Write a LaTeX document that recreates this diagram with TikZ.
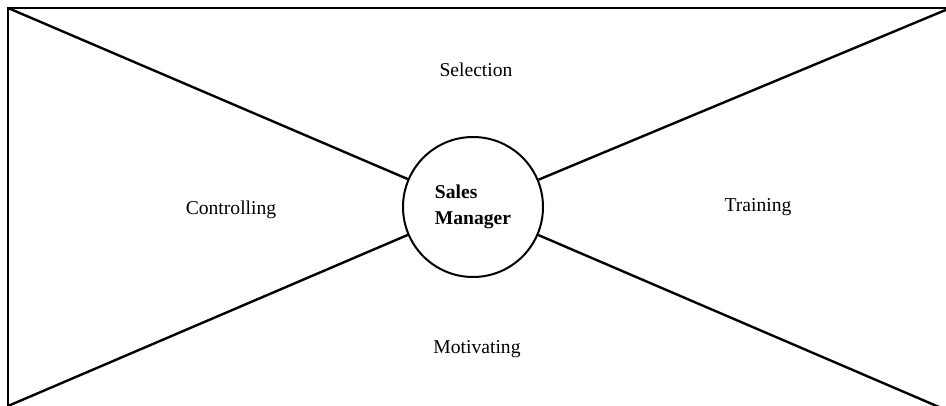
\documentclass[tikz,border=0pt]{standalone}
\usepackage{fontspec}
\setmainfont{Liberation Serif}
\begin{document}
\begin{tikzpicture}[x=0.5pt,y=-0.5pt,
  lbl/.style={font=\fontsize{9.8}{12}\selectfont, inner sep=0pt},
  frame/.style={line width=1.2pt},
  spoke/.style={line width=1.2pt},
  hub/.style={circle, draw, line width=1pt, minimum size=70pt, inner sep=0pt,
    align=left, font=\fontsize{9.8}{13}\selectfont\bfseries}]
\useasboundingbox (0,0) rectangle (946,406);
\clip (0,0) rectangle (946,406);
\fill[white] (0,0) rectangle (946,406);
\coordinate (tl) at (8,8);
\coordinate (tr) at (948,9);
\coordinate (bl) at (8,406);
\coordinate (br) at (946,410);
\draw[frame] (8,420) -- (tl) -- (960,8);
\node[hub] (sm) at (473,207) {Sales\\Manager};
\draw[spoke] (tl) -- (sm);
\draw[spoke] (tr) -- (sm);
\draw[spoke] (bl) -- (sm);
\draw[spoke] (br) -- (sm);
\node[lbl] (sel) at (476,70) {Selection};
\node[lbl] (con) at (231,210) {Controlling};
\node[lbl] (tra) at (758,207) {Training};
\node[lbl] (mot) at (477,349) {Motivating};
\end{tikzpicture}
\end{document}
